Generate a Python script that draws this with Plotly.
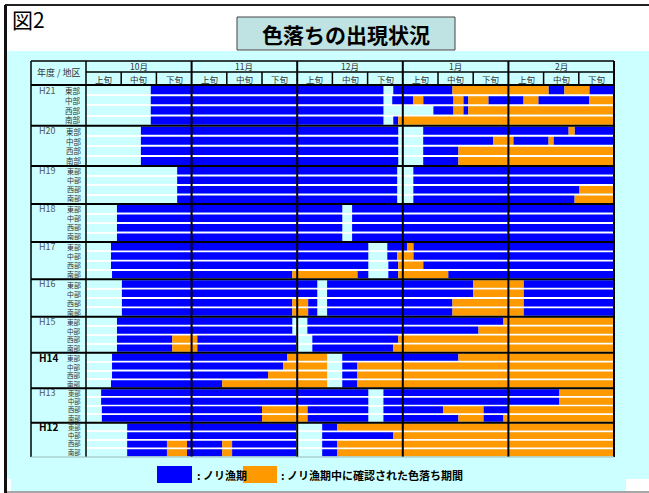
import plotly.graph_objects as go

# ---------------- data ----------------
YEARS = ["H21", "H20", "H19", "H18", "H17", "H16", "H15", "H14", "H13", "H12"]
BOLD_YEARS = ["H14", "H12"]
REGIONS = ["東部", "中部", "西部", "南部"]
MONTHS = ["10月", "11月", "12月", "1月", "2月"]
JUN = ["上旬", "中旬", "下旬"]

# segments per region (東部, 中部, 西部, 南部): (start, end, kind)
# position unit: 1 旬 = 10, 0 = 10月上旬 start ; B = ノリ漁期, O = 色落ち期間
H21 = [
    [(18.4, 84.5, "B"), (87.3, 104.1, "B"), (104.1, 131.4, "O"), (131.4, 135.9, "B"), (135.9, 143.0, "O"), (143.0, 150, "B")],
    [(18.4, 84.5, "B"), (87.0, 93.0, "B"), (93.0, 95.8, "O"), (95.8, 104.4, "B"), (104.4, 107.2, "O"), (107.2, 108.6, "B"),
     (108.6, 114.3, "O"), (114.3, 124.3, "B"), (124.3, 128.5, "O"), (128.5, 143.0, "B"), (143.0, 150, "O")],
    [(18.4, 84.5, "B"), (98.7, 104.4, "B"), (104.4, 107.2, "O"), (107.2, 108.6, "B"), (108.6, 150, "O")],
    [(18.4, 84.5, "B"), (87.3, 88.7, "B"), (88.7, 150, "O")],
]
H20 = [
    [(15.6, 88.7, "B"), (95.8, 137.1, "B"), (137.1, 138.8, "O"), (138.8, 150, "B")],
    [(15.6, 88.7, "B"), (95.8, 115.7, "B"), (115.7, 121.4, "O"), (121.4, 131.4, "B"), (131.4, 132.8, "O"), (132.8, 150, "B")],
    [(15.6, 88.7, "B"), (95.8, 105.8, "B"), (105.8, 150, "O")],
    [(15.6, 88.7, "B"), (95.8, 105.8, "B"), (105.8, 150, "O")],
]
H19 = [
    [(25.9, 88.4, "B"), (93.0, 150, "B")],
    [(25.9, 88.4, "B"), (93.0, 150, "B")],
    [(25.9, 88.4, "B"), (93.0, 140.2, "B"), (140.2, 150, "O")],
    [(25.9, 88.4, "B"), (93.0, 138.8, "B"), (138.8, 150, "O")],
]
H18 = [
    [(8.8, 72.8, "B"), (75.6, 150, "B")],
    [(8.8, 72.8, "B"), (75.6, 150, "B")],
    [(8.8, 72.8, "B"), (75.6, 150, "B")],
    [(8.8, 72.8, "B"), (75.6, 150, "B")],
]
H17 = [
    [(7.1, 80.2, "B"), (85.6, 91.3, "B"), (91.3, 93.0, "O"), (93.0, 150, "B")],
    [(7.1, 80.2, "B"), (85.6, 88.4, "B"), (88.4, 93.0, "O"), (93.0, 150, "B")],
    [(7.1, 80.2, "B"), (85.9, 88.7, "B"), (88.7, 95.8, "O"), (95.8, 150, "B")],
    [(7.4, 58.6, "B"), (58.6, 77.1, "O"), (77.1, 80.2, "B"), (85.9, 88.7, "B"), (88.7, 102.9, "O"), (102.9, 150, "B")],
]
H16 = [
    [(10.2, 65.7, "B"), (68.5, 110.0, "B"), (110.0, 124.3, "O"), (124.3, 150, "B")],
    [(10.2, 65.7, "B"), (68.5, 110.0, "B"), (110.0, 124.3, "O"), (124.3, 150, "B")],
    [(10.2, 58.6, "B"), (58.6, 63.1, "O"), (63.1, 65.7, "B"), (68.5, 104.1, "B"), (104.1, 124.3, "O"), (124.3, 150, "B")],
    [(10.2, 58.6, "B"), (58.6, 63.1, "O"), (63.1, 65.7, "B"), (68.5, 104.1, "B"), (104.1, 124.3, "O"), (124.3, 150, "B")],
]
H15 = [
    [(8.8, 58.6, "B"), (62.9, 118.6, "B"), (118.6, 150, "O")],
    [(8.8, 58.6, "B"), (62.9, 111.5, "B"), (111.5, 150, "O")],
    [(8.8, 24.5, "B"), (24.5, 31.6, "O"), (31.6, 59.7, "B"), (64.3, 88.7, "B"), (88.7, 150, "O")],
    [(8.8, 24.5, "B"), (24.5, 31.6, "O"), (31.6, 59.7, "B"), (64.3, 87.3, "B"), (87.3, 150, "O")],
]
H14 = [
    [(7.4, 57.2, "B"), (57.2, 68.5, "O"), (72.8, 105.8, "B"), (105.8, 150, "O")],
    [(7.4, 56.0, "B"), (56.0, 68.5, "O"), (72.8, 77.1, "B"), (77.1, 150, "O")],
    [(7.4, 51.7, "B"), (51.7, 68.5, "O"), (72.8, 77.1, "B"), (77.1, 150, "O")],
    [(7.1, 38.7, "B"), (38.7, 68.5, "O"), (72.8, 77.1, "B"), (77.1, 150, "O")],
]
H13 = [
    [(4.3, 80.2, "B"), (84.5, 134.5, "B"), (134.5, 150, "O")],
    [(4.3, 80.2, "B"), (84.5, 134.5, "B"), (134.5, 150, "O")],
    [(4.5, 50.0, "B"), (50.0, 62.9, "O"), (62.9, 80.2, "B"), (84.5, 101.5, "B"), (101.5, 112.9, "O"), (112.9, 120.0, "B"), (120.0, 150, "O")],
    [(4.5, 50.0, "B"), (50.0, 62.9, "O"), (62.9, 80.2, "B"), (84.5, 105.8, "B"), (105.8, 112.9, "O"), (112.9, 118.6, "B"), (118.6, 150, "O")],
]
H12 = [
    [(11.7, 59.7, "B"), (67.1, 71.4, "B"), (71.4, 150, "O")],
    [(11.7, 59.7, "B"), (67.1, 87.3, "B"), (87.3, 150, "O")],
    [(11.7, 23.0, "B"), (23.0, 28.7, "O"), (28.7, 38.7, "B"), (38.7, 41.5, "O"), (41.5, 59.7, "B"), (67.1, 71.4, "B"), (71.4, 150, "O")],
    [(11.7, 23.0, "B"), (23.0, 28.7, "O"), (28.7, 38.7, "B"), (38.7, 41.5, "O"), (41.5, 59.7, "B"), (67.1, 71.4, "B"), (71.4, 150, "O")],
]
SEGMENTS = [H21, H20, H19, H18, H17, H16, H15, H14, H13, H12]

# ---------------- layout / style ----------------
W, H = 649, 493
FONT = "Noto Sans CJK JP"
BLUE = "#0000FF"
ORANGE = "#FF9900"
CYAN = "#CCFFFF"
COLORS = {"B": BLUE, "O": ORANGE}

X_LABEL_L, X_TABLE_L, X_TABLE_R = 31, 86, 614
Y_HEAD_TOP, Y_HEAD_MID, Y_HEAD_BOT, Y_TABLE_BOT = 61, 72, 85, 457
BLOCK_EDGES_PX = [85, 125.7, 166, 204, 242, 279.3, 316.7, 352.7, 388.3, 422.7, 457]
X_MAX = 150


def px(x):
    return x / W


def py(y):
    return 1 - y / H


fig = go.Figure()
layout_axes = {}
annotations = []
shapes = []

for k, (year, rows) in enumerate(zip(YEARS, SEGMENTS)):
    yname = "y" if k == 0 else f"y{k + 1}"
    for kind in ["B", "O"]:
        ys, bases, lens = [], [], []
        for r, segs in enumerate(rows):
            for (s, e, kd) in segs:
                if kd == kind:
                    ys.append(r + 0.5)
                    bases.append(s)
                    lens.append(e - s)
        if ys:
            fig.add_trace(go.Bar(
                orientation="h", y=ys, x=lens, base=bases,
                marker=dict(color=COLORS[kind], line=dict(width=0)),
                width=0.8, xaxis="x", yaxis=yname, showlegend=False,
                hoverinfo="skip"))
    axkey = "yaxis" if k == 0 else f"yaxis{k + 1}"
    layout_axes[axkey] = dict(
        domain=[py(BLOCK_EDGES_PX[k + 1]), py(BLOCK_EDGES_PX[k])],
        range=[4, 0], anchor="x", showticklabels=False,
        showgrid=False, zeroline=False, showline=False, ticks="",
        minor=dict(tickmode="array", tickvals=[1, 2, 3], showgrid=True,
                   gridcolor="white", gridwidth=1.5, ticks=""),
    )
    # region labels of this year block (one multi-line text)
    block_h = BLOCK_EDGES_PX[k + 1] - BLOCK_EDGES_PX[k]
    fsize = round(min(8.0, (block_h - 1.5) / 4 / 1.3), 2)
    annotations.append(dict(
        xref="paper", yref=yname, x=px(81.5), y=2, xanchor="right", yanchor="middle", align="right",
        text="<br>".join(REGIONS), showarrow=False, borderpad=0,
        font=dict(family=FONT, size=fsize, color="#333333")))
    bold = year in BOLD_YEARS
    annotations.append(dict(
        xref="paper", yref=yname, x=px(37), y=0.5, xanchor="left", yanchor="middle",
        text=f"<b>{year}</b>" if bold else year, showarrow=False,
        font=dict(family=FONT, size=10 if bold else 9, color="#000000" if bold else "#555555")))

# ---- background & frame ----
shapes.append(dict(type="rect", xref="paper", yref="paper", x0=px(7), x1=px(649), y0=py(491), y1=py(51),
                   fillcolor=CYAN, line=dict(width=0), layer="below"))
shapes.append(dict(type="rect", xref="paper", yref="paper", x0=px(626), x1=px(649), y0=py(491), y1=py(479),
                   fillcolor="white", line=dict(width=0), layer="below"))
shapes.append(dict(type="rect", xref="paper", yref="paper", x0=px(7), x1=px(11), y0=py(492), y1=py(479),
                   fillcolor="white", line=dict(width=0), layer="below"))
shapes.append(dict(type="line", xref="paper", yref="paper", x0=px(5), x1=px(649), y0=py(5), y1=py(5),
                   line=dict(color="#222222", width=2)))
shapes.append(dict(type="line", xref="paper", yref="paper", x0=px(5.5), x1=px(5.5), y0=py(5), y1=py(493),
                   line=dict(color="#111111", width=3)))
shapes.append(dict(type="line", xref="paper", yref="paper", x0=px(7), x1=px(649), y0=py(492), y1=py(492),
                   line=dict(color="#888888", width=1.5)))

# ---- title ----
shapes.append(dict(type="rect", xref="paper", yref="paper", x0=px(237), x1=px(455), y0=py(50), y1=py(17),
                   fillcolor="#BFE2E2", line=dict(color="#444444", width=1)))
annotations.append(dict(xref="paper", yref="paper", x=px(346), y=py(34), xanchor="center", yanchor="middle",
                        text="<b>色落ちの出現状況</b>", showarrow=False,
                        font=dict(family=FONT, size=21, color="#000000")))
annotations.append(dict(xref="paper", yref="paper", x=px(10), y=py(19), xanchor="left", yanchor="middle",
                        text="図2", showarrow=False, font=dict(family=FONT, size=21, color="#000000")))

# ---- header ----
annotations.append(dict(xref="paper", yref="paper", x=px((X_LABEL_L + X_TABLE_L) / 2), y=py(73),
                        xanchor="center", yanchor="middle", text="年度 / 地区", showarrow=False,
                        font=dict(family=FONT, size=9, color="#333333")))
for m, mn in enumerate(MONTHS):
    annotations.append(dict(xref="x", yref="paper", x=15 + 30 * m, y=py(66.5), xanchor="center",
                            yanchor="middle", text=mn, showarrow=False,
                            font=dict(family=FONT, size=8.5, color="#333333")))
    for j, jn in enumerate(JUN):
        annotations.append(dict(xref="x", yref="paper", x=30 * m + 10 * j + 5, y=py(78.8), xanchor="center",
                                yanchor="middle", text=jn, showarrow=False,
                                font=dict(family=FONT, size=8.5, color="#333333")))

BLACK = "#000000"
# horizontal header lines
shapes.append(dict(type="line", xref="paper", yref="paper", x0=px(X_LABEL_L), x1=px(X_TABLE_R),
                   y0=py(Y_HEAD_TOP), y1=py(Y_HEAD_TOP), line=dict(color=BLACK, width=1.5)))
shapes.append(dict(type="line", xref="paper", yref="paper", x0=px(X_TABLE_L), x1=px(X_TABLE_R),
                   y0=py(Y_HEAD_MID), y1=py(Y_HEAD_MID), line=dict(color=BLACK, width=1.5)))
shapes.append(dict(type="line", xref="paper", yref="paper", x0=px(X_LABEL_L), x1=px(X_TABLE_R),
                   y0=py(Y_HEAD_BOT), y1=py(Y_HEAD_BOT), line=dict(color=BLACK, width=2)))
# 旬 dividers in header
for t in range(1, 15):
    if t % 3:
        shapes.append(dict(type="line", xref="x", yref="paper", x0=10 * t, x1=10 * t,
                           y0=py(Y_HEAD_MID), y1=py(Y_HEAD_BOT), line=dict(color=BLACK, width=1.5)))
# month lines through header + data
for m in range(1, 5):
    shapes.append(dict(type="line", xref="x", yref="paper", x0=30 * m, x1=30 * m,
                       y0=py(Y_HEAD_TOP), y1=py(Y_TABLE_BOT), line=dict(color=BLACK, width=2)))
# outer verticals
for xv, wd in [(X_LABEL_L, 1.5), (X_TABLE_L, 1.5), (X_TABLE_R, 2)]:
    shapes.append(dict(type="line", xref="paper", yref="paper", x0=px(xv), x1=px(xv),
                       y0=py(Y_HEAD_TOP), y1=py(Y_TABLE_BOT), line=dict(color=BLACK, width=wd)))
# year separators
for yb in BLOCK_EDGES_PX[1:-1]:
    shapes.append(dict(type="line", xref="paper", yref="paper", x0=px(X_LABEL_L), x1=px(X_TABLE_R + 1),
                       y0=py(yb), y1=py(yb), line=dict(color=BLACK, width=2)))
shapes.append(dict(type="line", xref="paper", yref="paper", x0=px(X_LABEL_L), x1=px(X_TABLE_R),
                   y0=py(Y_TABLE_BOT), y1=py(Y_TABLE_BOT), line=dict(color="#99BBBB", width=1)))

# ---- legend ----
shapes.append(dict(type="rect", xref="paper", yref="paper", x0=px(157), x1=px(192), y0=py(483), y1=py(466),
                   fillcolor=BLUE, line=dict(width=0)))
shapes.append(dict(type="rect", xref="paper", yref="paper", x0=px(243), x1=px(277), y0=py(483), y1=py(466),
                   fillcolor=ORANGE, line=dict(width=0)))
annotations.append(dict(xref="paper", yref="paper", x=px(195), y=py(474.5), xanchor="left", yanchor="middle",
                        text="<b>: ノリ漁期</b>", showarrow=False, font=dict(family=FONT, size=11, color="#000000")))
annotations.append(dict(xref="paper", yref="paper", x=px(279), y=py(474.5), xanchor="left", yanchor="middle",
                        text="<b>: ノリ漁期中に確認された色落ち期間</b>", showarrow=False,
                        font=dict(family=FONT, size=11, color="#000000")))

fig.update_layout(
    width=W, height=H, margin=dict(l=0, r=0, t=0, b=0),
    paper_bgcolor="white", plot_bgcolor=CYAN,
    barmode="overlay", showlegend=False,
    xaxis=dict(domain=[px(X_TABLE_L), px(X_TABLE_R)], range=[0, X_MAX], visible=False, anchor="y"),
    shapes=shapes, annotations=annotations,
    font=dict(family=FONT),
    **layout_axes,
)

fig.write_html("out.html", config={"displayModeBar": False},
               post_script="document.body.style.margin='0';document.body.style.overflow='hidden';")
